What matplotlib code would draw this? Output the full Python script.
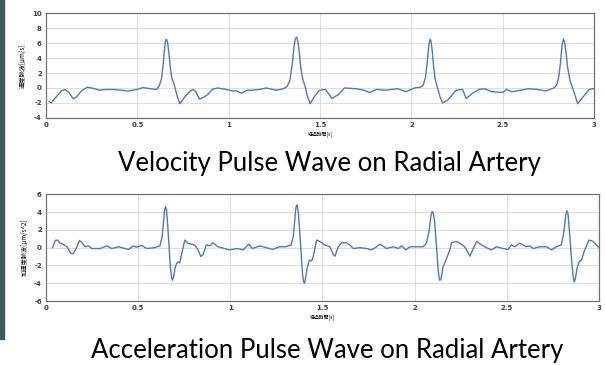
import matplotlib
matplotlib.use('Agg')
from matplotlib import pyplot as plt
from matplotlib.patches import Rectangle

# velocity pulse wave [um/s] vs elapsed time [s]
vel_t = [0.018, 0.028, 0.045, 0.067, 0.084, 0.104, 0.125, 0.149, 0.167, 0.194, 0.226,
         0.26, 0.29, 0.33, 0.37, 0.41, 0.45, 0.5, 0.53, 0.57, 0.605, 0.62, 0.632, 0.641,
         0.648, 0.654, 0.66, 0.666, 0.673, 0.68, 0.688, 0.7, 0.715, 0.732, 0.745, 0.76,
         0.79, 0.806, 0.82, 0.84, 0.866, 0.884,
         0.91, 0.94, 0.986, 1.02, 1.045, 1.07, 1.1, 1.13, 1.17, 1.205, 1.26, 1.3, 1.32,
         1.335, 1.348, 1.358, 1.365, 1.372, 1.379, 1.387, 1.395, 1.405, 1.418, 1.432,
         1.446, 1.47, 1.497, 1.53, 1.565, 1.6,
         1.634, 1.699, 1.74, 1.77, 1.81, 1.86, 1.925, 1.97, 2.016, 2.05, 2.065, 2.077,
         2.087, 2.095, 2.101, 2.107, 2.114, 2.121, 2.13, 2.143, 2.157, 2.171, 2.2, 2.244,
         2.28, 2.3, 2.335, 2.37, 2.4,
         2.44, 2.5, 2.52, 2.55, 2.6, 2.64, 2.69, 2.735, 2.78, 2.795, 2.806, 2.816, 2.824,
         2.831, 2.838, 2.846, 2.856, 2.868, 2.885, 2.91, 2.94, 2.973, 2.99, 3.0]
vel_v = [-1.8, -2.0, -1.5, -0.9, -0.4, -0.2, -0.6, -1.45, -1.2, -0.4, 0.1,
         -0.05, -0.3, -0.2, -0.2, -0.3, -0.4, -0.2, 0.05, -0.1, -0.2, 0.3, 1.2, 3.0,
         5.0, 6.3, 6.5, 6.0, 4.6, 2.8, 1.4, 0.6, -0.8, -2.1, -1.7, -1.2,
         -0.4, -0.2, -0.5, -1.5, -1.2, -0.9,
         -0.2, 0.0, -0.2, -0.4, -0.4, -0.7, -0.3, -0.3, -0.2, 0.0, -0.3, -0.1, 0.2,
         1.0, 3.2, 5.6, 6.6, 6.8, 6.2, 4.6, 2.6, 1.2, 0.2, -1.2,
         -2.1, -1.1, -0.3, -0.2, -1.4, -0.9,
         0.0, -0.1, -0.3, -0.6, -0.2, -0.3, -0.1, -0.5, 0.0, 0.1, 0.4, 1.4,
         3.6, 5.6, 6.5, 6.3, 5.0, 3.0, 1.2, 0.0, -1.2, -2.0, -1.6, -0.3,
         -0.2, -1.4, -0.7, -0.2, -0.1,
         -0.5, -0.6, -0.2, -0.5, -0.3, -0.1, -0.2, -0.4, 0.0, 0.4, 1.4, 3.4, 5.6,
         6.5, 6.2, 4.8, 2.6, 1.0, -0.2, -2.1, -1.2, -0.2, -0.1, -0.1]

# acceleration pulse wave [um/s^2] vs elapsed time [s]
acc_t = [0.036, 0.05, 0.063, 0.077, 0.095, 0.114, 0.135, 0.146, 0.164, 0.182, 0.195,
         0.213, 0.23, 0.25, 0.294, 0.33, 0.357, 0.393, 0.447, 0.474, 0.49, 0.52, 0.546,
         0.59, 0.618, 0.63, 0.638, 0.644, 0.649, 0.654, 0.66, 0.668, 0.675, 0.681,
         0.686, 0.692, 0.7, 0.708, 0.717,
         0.726, 0.735, 0.753, 0.77, 0.807, 0.825, 0.84, 0.852, 0.87, 0.888, 0.906,
         0.933, 0.996, 1.04, 1.07, 1.1, 1.12, 1.16, 1.195, 1.23, 1.267, 1.3, 1.33,
         1.342, 1.351, 1.357, 1.362, 1.368, 1.376, 1.384, 1.391, 1.397, 1.403, 1.41,
         1.418, 1.429, 1.441, 1.45, 1.468,
         1.486, 1.513, 1.54, 1.559, 1.568, 1.586, 1.604, 1.63, 1.649, 1.667, 1.703,
         1.74, 1.766, 1.794, 1.812, 1.848, 1.884, 1.911, 1.929, 1.953, 1.974, 2.01,
         2.046, 2.064, 2.078, 2.088, 2.095, 2.101, 2.108, 2.119, 2.128, 2.135, 2.142,
         2.155, 2.17, 2.191,
         2.2, 2.227, 2.245, 2.272, 2.3, 2.318, 2.336, 2.363, 2.39, 2.417, 2.444, 2.48,
         2.507, 2.525, 2.543, 2.57, 2.606, 2.625, 2.643, 2.679, 2.715, 2.742, 2.769,
         2.796, 2.81, 2.819, 2.826, 2.832, 2.84, 2.85, 2.86, 2.866, 2.872, 2.88, 2.892,
         2.905, 2.923, 2.946, 2.968, 2.986, 3.0]
acc_v = [0.0, 0.8, 0.85, 0.5, 0.35, 0.1, -0.65, -0.7, -0.1, 0.8, 0.55,
         0.1, 0.2, -0.1, -0.1, 0.2, -0.1, 0.1, -0.2, 0.2, 0.05, 0.25, -0.1,
         0.0, 0.2, 1.2, 3.0, 4.3, 4.6, 4.2, 2.6, 0.1, -2.2, -3.3,
         -3.65, -3.3, -2.3, -1.8, -1.6,
         -1.7, -0.8, 0.85, 0.5, 0.3, -0.25, -1.0, -0.8, 0.3, 0.2, 0.55,
         0.1, -0.25, -0.1, -0.25, 0.4, -0.1, 0.2, 0.0, -0.2, 0.1, 0.1, 0.3,
         1.3, 3.4, 4.6, 4.8, 4.2, 2.0, -0.6, -2.8, -3.8, -4.0, -3.2,
         -2.2, -1.4, -1.5, -1.0, 0.85,
         0.7, 0.3, 0.1, -0.8, -0.95, 0.1, 0.55, 0.55, 0.3, -0.1, 0.0,
         -0.1, -0.25, 0.1, 0.4, -0.1, 0.1, -0.1, 0.2, -0.25, 0.1, 0.1,
         0.1, 0.5, 1.8, 3.5, 4.05, 3.9, 3.0, 0.1, -2.6, -3.65, -3.6,
         -2.1, -1.4, -0.25,
         0.55, 0.7, 0.5, 0.1, -0.95, -0.1, 0.7, 0.3, 0.0, -0.25, 0.1, -0.1,
         -0.2, 0.3, 0.1, 0.5, 0.1, 0.2, -0.1, 0.1, 0.1, -0.25, 0.1,
         0.3, 1.8, 3.6, 4.15, 3.8, 1.8, -1.0, -3.3, -3.85, -3.5, -2.4, -1.6,
         -1.4, -0.25, 0.85, 0.7, 0.3, 0.0]

x_ticks = [0, 0.5, 1, 1.5, 2, 2.5, 3]
x_labels = ['0', '0.5', '1', '1.5', '2', '2.5', '3']
cjk = ['Noto Sans CJK JP', 'DejaVu Sans']
line_color = '#4a78cc'


def style_axes(ax, yticks, ylabel):
    ax.set_xlim(0, 3)
    ax.set_ylim(yticks[0], yticks[-1])
    ax.set_xticks(x_ticks)
    ax.set_xticklabels(x_labels)
    ax.set_yticks(yticks)
    ax.set_yticklabels([str(v) for v in yticks])
    ax.tick_params(length=0, labelsize=5, colors='#404040', pad=3)
    for lbl in ax.get_xticklabels() + ax.get_yticklabels():
        lbl.set_fontweight('bold')
    ax.grid(True, color='#dcdcdc', lw=0.7)
    ax.set_axisbelow(True)
    for s in ax.spines.values():
        s.set_color('#707070')
        s.set_linewidth(0.9)
    ax.set_ylabel(ylabel, fontsize=4.5, family=cjk, labelpad=4)
    ax.set_xlabel('経過時間[s]', fontsize=3.5, family=cjk, labelpad=2)


fig = plt.figure(figsize=(6.05, 3.65), dpi=100)

# top: velocity
ax1 = fig.add_axes([0.076, 0.677, 0.906, 0.287])
ax1.plot(vel_t, vel_v, color=line_color, lw=1.0)
style_axes(ax1, [-4, -2, 0, 2, 4, 6, 8, 10], '速度脈波[μm/s]')

# bottom: acceleration
ax2 = fig.add_axes([0.076, 0.175, 0.914, 0.293])
ax2.plot(acc_t, acc_v, color=line_color, lw=1.0)
style_axes(ax2, [-6, -4, -2, 0, 2, 4, 6], '加速度脈波[μm/s^2]')

fig.text(0.545, 0.553, 'Velocity Pulse Wave on Radial Artery',
         ha='center', va='center', fontsize=18.5, family='Lato')
fig.text(0.541, 0.04, 'Acceleration Pulse Wave on Radial Artery',
         ha='center', va='center', fontsize=18.5, family='Lato')

# slide edge strip on the left
fig.patches.append(Rectangle((0, 0.07), 0.007, 0.93, transform=fig.transFigure,
                             color='#3b5c5c', zorder=0))

plt.savefig('out.png', dpi=100)
plt.close(fig)
